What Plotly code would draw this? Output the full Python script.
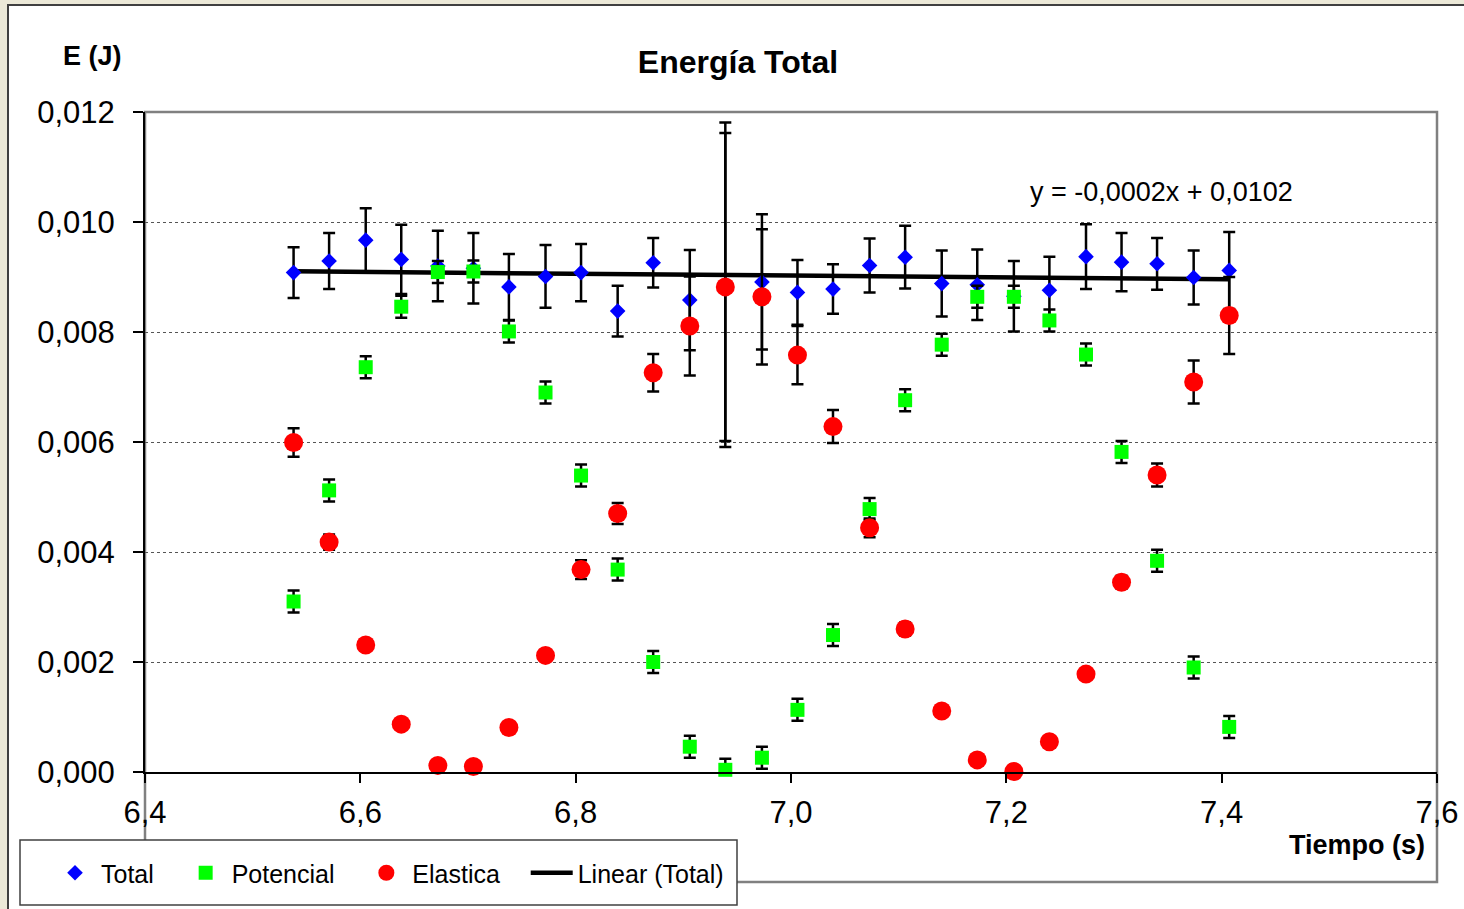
import numpy as np
import plotly.graph_objects as go

# ---------------- data ----------------
tiempo = [6.538, 6.571, 6.605, 6.638, 6.672, 6.705, 6.738, 6.772, 6.805, 6.839,
          6.872, 6.906, 6.939, 6.973, 7.006, 7.039, 7.073, 7.106, 7.140, 7.173,
          7.207, 7.240, 7.274, 7.307, 7.340, 7.374, 7.407]

total = [0.00908, 0.00929, 0.00967, 0.00932, 0.00920, 0.00916, 0.00882, 0.00901, 0.00908, 0.00838,
         0.00926, 0.00858, 0.00886, 0.00891, 0.00872, 0.00878, 0.00921, 0.00936, 0.00888, 0.00886,
         0.00865, 0.00876, 0.00937, 0.00927, 0.00924, 0.00899, 0.00912]

potencial = [0.00310, 0.00512, 0.00736, 0.00846, 0.00909, 0.00910, 0.00801, 0.00690, 0.00539, 0.00368,
             0.00200, 0.00046, 0.00004, 0.00026, 0.00113, 0.00249, 0.00478, 0.00676, 0.00777, 0.00864,
             0.00864, 0.00821, 0.00759, 0.00582, 0.00384, 0.00190, 0.00082]

elastica = [0.00599, 0.00418, 0.00231, 0.00087, 0.00012, 0.00010, 0.00081, 0.00212, 0.00368, 0.00470,
            0.00726, 0.00811, 0.00882, 0.00864, 0.00758, 0.00628, 0.00444, 0.00260, 0.00111, 0.00022,
            0.00001, 0.00055, 0.00178, 0.00345, 0.00540, 0.00709, 0.00830]

err_total = [0.00046, 0.00051, 0.00058, 0.00063, 0.00064, 0.00064, 0.00060, 0.00057, 0.00052, 0.00046,
             0.00045, 0.00091, 0.00295, 0.00123, 0.00059, 0.00045, 0.00049, 0.00057, 0.00060, 0.00064,
             0.00064, 0.00061, 0.00059, 0.00053, 0.00047, 0.00049, 0.00070]

err_potencial = [0.0002, 0.0002, 0.0002, 0.0002, 0.0002, 0.0002, 0.0002, 0.0002, 0.0002, 0.0002,
                 0.0002, 0.0002, 0.0002, 0.0002, 0.0002, 0.0002, 0.0002, 0.0002, 0.0002, 0.0002,
                 0.0002, 0.0002, 0.0002, 0.0002, 0.0002, 0.0002, 0.0002]

err_elastica = [0.00026, 0.00014, 0.00010, 0.00005, 0.00001, 0.00001, 0.00005, 0.00010, 0.00017, 0.00019,
                0.00034, 0.00090, 0.00280, 0.00123, 0.00053, 0.00030, 0.00017, 0.00012, 0.00005, 0.00001,
                0.00000, 0.00003, 0.00010, 0.00012, 0.00021, 0.00039, 0.00070]

x_ticks = [6.4, 6.6, 6.8, 7.0, 7.2, 7.4, 7.6]
y_ticks = [0.000, 0.002, 0.004, 0.006, 0.008, 0.010, 0.012]

title_text = "Energía Total"
y_title = "E (J)"
x_title = "Tiempo (s)"
trend_label = "y = -0,0002x + 0,0102"
series_names = ["Total", "Potencial", "Elastica", "Linear (Total)"]

# ---------------- trend line (least squares on Total) ----------------
slope, intercept = np.polyfit(tiempo, total, 1)
trend_x = [tiempo[0], tiempo[-1]]
trend_y = [slope * v + intercept for v in trend_x]

FONT = "Liberation Sans, Arial, sans-serif"
W, H = 1464, 909
L, R, T, B = 145, 27, 112, 137
pw, ph = W - L - R, H - T - B

def px_x(px):
    return (px - L) / pw

def px_y(py):
    return (H - B - py) / ph

PAD = "\u00a0" * 3  # extra spacing between legend entries
eb = dict(type="data", color="black", thickness=2.5, width=6, visible=True)

fig = go.Figure()

fig.add_trace(go.Scatter(
    x=trend_x, y=trend_y, mode="lines", name=series_names[3],
    line=dict(color="black", width=4.5), legendrank=4, cliponaxis=False))

fig.add_trace(go.Scatter(
    x=tiempo, y=total, mode="markers", name=series_names[0] + PAD,
    marker=dict(symbol="diamond", size=12, color="#0000FF"),
    error_y=dict(array=err_total, **eb), legendrank=1, cliponaxis=False))

fig.add_trace(go.Scatter(
    x=tiempo, y=potencial, mode="markers", name=series_names[1] + PAD,
    marker=dict(symbol="square", size=14, color="#00FF00"),
    error_y=dict(array=err_potencial, **eb), legendrank=2, cliponaxis=False))

fig.add_trace(go.Scatter(
    x=tiempo, y=elastica, mode="markers", name=series_names[2] + PAD,
    marker=dict(symbol="circle", size=19, color="#FF0000"),
    error_y=dict(array=err_elastica, **eb), legendrank=3, cliponaxis=False))

shapes = [
    # white chart area on beige window background
    dict(type="rect", xref="paper", yref="paper", layer="below",
         x0=px_x(8), x1=px_x(W + 10), y0=px_y(H + 10), y1=px_y(5),
         fillcolor="white", line=dict(color="#404040", width=2)),
    # plot area frame (extends below the x axis to include tick labels)
    dict(type="rect", xref="paper", yref="paper", layer="below",
         x0=0, x1=1, y0=px_y(882), y1=1,
         fillcolor="rgba(0,0,0,0)", line=dict(color="#808080", width=2.5)),
    # legend frame
    dict(type="rect", xref="paper", yref="paper", layer="above",
         x0=px_x(20), x1=px_x(737), y0=px_y(905), y1=px_y(840),
         fillcolor="white", line=dict(color="#404040", width=1.5)),
]

annotations = [
    dict(text=f"<b>{y_title}</b>", xref="paper", yref="paper",
         x=px_x(92), y=px_y(56), xanchor="center", yanchor="middle",
         showarrow=False, font=dict(family=FONT, size=27, color="black")),
    dict(text=f"<b>{x_title}</b>", xref="paper", yref="paper",
         x=px_x(1357), y=px_y(845), xanchor="center", yanchor="middle",
         showarrow=False, font=dict(family=FONT, size=27, color="black")),
    dict(text=trend_label, xref="paper", yref="paper",
         x=px_x(1028), y=px_y(192), xanchor="left", yanchor="middle",
         showarrow=False, font=dict(family=FONT, size=27, color="black")),
]

fig.update_layout(
    width=W, height=H,
    margin=dict(l=L, r=R, t=T, b=B, pad=0, autoexpand=False),
    paper_bgcolor="#ECE9D8",
    plot_bgcolor="white",
    separators=",.",
    font=dict(family=FONT, color="black"),
    title=dict(text=f"<b>{title_text}</b>", x=738 / W, y=1 - 62 / H,
               xref="container", yref="container", xanchor="center", yanchor="middle",
               font=dict(family=FONT, size=32, color="black")),
    showlegend=True,
    legend=dict(orientation="h", x=px_x(49), y=px_y(873), xanchor="left", yanchor="middle",
                bgcolor="rgba(0,0,0,0)", borderwidth=0,
                font=dict(family=FONT, size=25, color="black"),
                itemwidth=42, traceorder="normal"),
    shapes=shapes,
    annotations=annotations,
)

fig.update_xaxes(
    range=[6.4, 7.6], tickvals=x_ticks, tickformat=".1f",
    showgrid=False, zeroline=False, automargin=False,
    showline=True, linecolor="black", linewidth=2,
    ticks="outside", ticklen=9, tickwidth=1.5, tickcolor="black",
    ticklabelstandoff=3,
    tickfont=dict(family=FONT, size=31, color="black"),
)
fig.update_yaxes(
    range=[0, 0.012], tickvals=y_ticks, tickformat=".3f",
    showgrid=True, gridcolor="#555555", gridwidth=1, griddash="dot",
    zeroline=False, automargin=False,
    showline=True, linecolor="black", linewidth=2,
    ticks="outside", ticklen=10, tickwidth=1.5, tickcolor="black",
    ticklabelstandoff=12,
    tickfont=dict(family=FONT, size=31, color="black"),
)

fig.write_html("out.html")
